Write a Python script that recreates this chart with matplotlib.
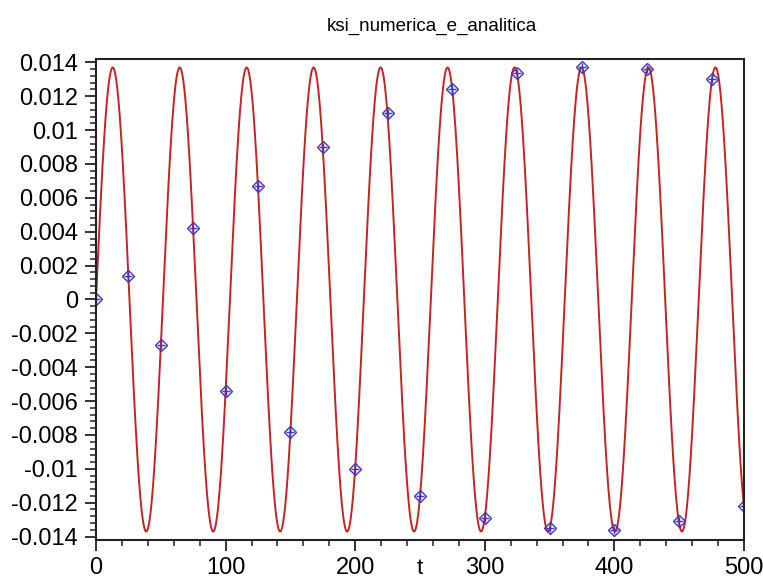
import numpy as np
import matplotlib
matplotlib.use('Agg')
import matplotlib.pyplot as plt
import matplotlib.transforms as mtransforms
from matplotlib.ticker import MultipleLocator

plt.rcParams['font.family'] = ['Liberation Sans', 'DejaVu Sans']

# numeric solution, sampled every 25 time units
t_num = [0, 25, 50, 75, 100, 125, 150, 175, 200, 225, 250,
         275, 300, 325, 350, 375, 400, 425, 450, 475, 500]
ksi_num = [0.0, 0.0014, -0.0027, 0.0042, -0.0054, 0.0067, -0.0078, 0.0090,
           -0.0100, 0.0110, -0.0116, 0.0124, -0.0129, 0.0134, -0.0135,
           0.0137, -0.0136, 0.0136, -0.0131, 0.0130, -0.0122]

# analytic solution ksi(t) = A sin(2 pi t / T)
A = 0.0137
T = 51.67
t_an = np.linspace(0, 500, 4001)
ksi_an = A * np.sin(2 * np.pi * t_an / T)

fig = plt.figure(figsize=(7.63, 5.81), dpi=100)
ax = fig.add_axes([0.1258, 0.0706, 0.8493, 0.8279])

ax.plot(t_an, ksi_an, color='#c42424', lw=1.4)
ax.plot(t_num, ksi_num, ls='none', marker='D', ms=6, mfc='none',
        mec='#4034c0', mew=1.0)
ax.plot(t_num, ksi_num, ls='none', marker='+', ms=6, mec='#4034c0', mew=1.0)

ax.set_xlim(0, 500)
ax.set_ylim(-0.0142, 0.0142)
ax.xaxis.set_major_locator(MultipleLocator(100))
ax.xaxis.set_minor_locator(MultipleLocator(20))
ax.yaxis.set_major_locator(MultipleLocator(0.002))
ax.yaxis.set_minor_locator(MultipleLocator(0.0004))
ax.yaxis.set_major_formatter(plt.FuncFormatter(lambda v, p: '%g' % round(v, 4) if abs(v) > 1e-9 else '0'))

ax.tick_params(which='major', length=8, width=1.3, labelsize=17, color='#222222')
ax.tick_params(which='minor', length=4.5, width=1.1, color='#222222')
ax.tick_params(axis='y', pad=5)
ax.tick_params(axis='x', pad=4)
for s in ax.spines.values():
    s.set_linewidth(1.5)
    s.set_color('#222222')

# keep the last x label inside the figure
fig.canvas.draw()
last = ax.get_xticklabels()[-1]
last.set_transform(last.get_transform() + mtransforms.ScaledTranslation(-7 / 100, 0, fig.dpi_scale_trans))

fig.text(0.566, 0.955, 'ksi_numerica_e_analitica', ha='center', va='center', fontsize=13.5)
fig.text(0.5505, 0.004, 't', ha='center', va='bottom', fontsize=16)

fig.savefig('out.png', dpi=100)
